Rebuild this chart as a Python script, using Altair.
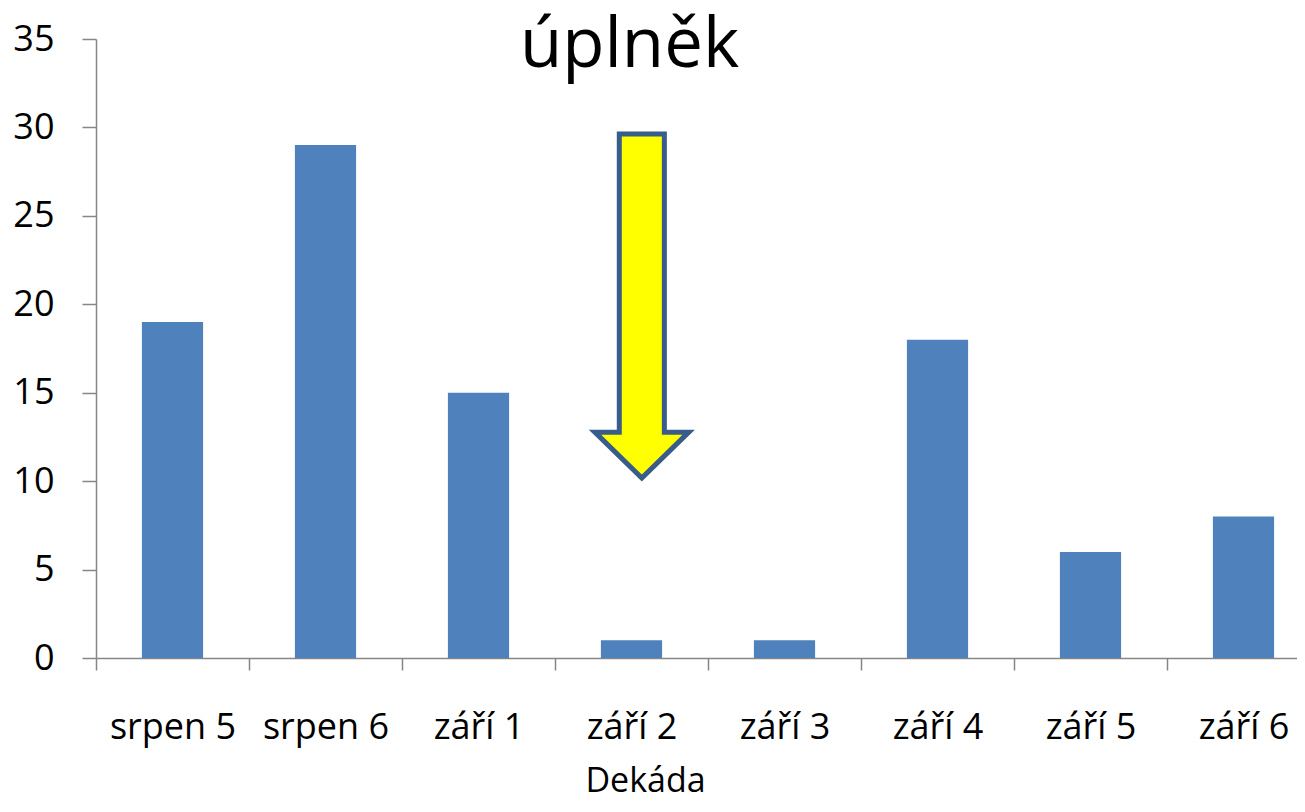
import altair as alt
import pandas as pd

# ---- data ----
categories = ["srpen 5", "srpen 6", "září 1", "září 2", "září 3", "září 4", "září 5", "září 6"]
counts = [19, 29, 15, 1, 1, 18, 6, 8]
y_ticks = [0, 5, 10, 15, 20, 25, 30, 35]
x_title = "Dekáda"

# annotation (full-moon marker above "září 2")
note_category = ["září 2"]
note_text = ["úplněk"]
note_text_value = [35]
arrow_category = ["září 2"]
arrow_center_value = [19.9]

FONT = "Open Sans"
AXIS_GREY = "#868686"
BAR_BLUE = "#4F81BD"

bars_df = pd.DataFrame({"Dekáda": categories, "count": counts})
title_df = pd.DataFrame({"Dekáda": note_category, "count": note_text_value, "label": note_text})
arrow_df = pd.DataFrame({"Dekáda": arrow_category, "count": arrow_center_value})

x_scale = alt.Scale(domain=categories, range=[0, 1224], paddingInner=0, paddingOuter=0)
y_scale = alt.Scale(domain=[0, 35], nice=False, zero=True)

x_enc = alt.X(
    "Dekáda:N",
    sort=categories,
    scale=x_scale,
    axis=alt.Axis(
        title=x_title,
        titleFont=FONT,
        titleFontSize=34,
        titleFontWeight="normal",
        titleColor="black",
        titleX=549,
        titleY=133,
        titleBaseline="alphabetic",
        titleAlign="center",
        labelAngle=0,
        labelFont=FONT,
        labelFontSize=36,
        labelColor="black",
        labelBaseline="alphabetic",
        labelPadding=68,
        labelOverlap=False,
        labelBound=False,
        tickSize=12,
        tickColor=AXIS_GREY,
        tickWidth=1.5,
        domainColor=AXIS_GREY,
        domainWidth=1.5,
        tickBand="extent",
        grid=False,
    ),
)

y_enc = alt.Y(
    "count:Q",
    scale=y_scale,
    axis=alt.Axis(
        title="",
        values=y_ticks,
        labelFont=FONT,
        labelFontSize=36,
        labelColor="black",
        labelPadding=28,
        tickSize=14,
        tickColor=AXIS_GREY,
        tickWidth=1.5,
        domainColor=AXIS_GREY,
        domainWidth=1.5,
        grid=False,
    ),
)

bars = alt.Chart(bars_df).mark_bar(
    color=BAR_BLUE, width=alt.RelativeBandSize(0.4)
).encode(x=x_enc, y=y_enc)

arrow_path = (
    "M -0.071 -1 L 0.191 -1 L 0.191 0.733 L 0.333 0.733 "
    "L 0.06 1 L -0.213 0.733 L -0.071 0.733 Z"
)
arrow = alt.Chart(arrow_df).mark_point(
    shape=arrow_path,
    size=118336,
    filled=True,
    fill="#FFFF00",
    stroke="#385D8A",
    strokeWidth=5,
    strokeJoin="miter",
    opacity=1,
    fillOpacity=1,
).encode(
    x=alt.X("Dekáda:N", sort=categories),
    y=alt.Y("count:Q"),
)

title = alt.Chart(title_df).mark_text(
    font=FONT,
    fontSize=69,
    color="black",
    align="center",
    baseline="alphabetic",
    dy=28,
    dx=-2,
).encode(
    x=alt.X("Dekáda:N", sort=categories),
    y=alt.Y("count:Q"),
    text="label:N",
)

chart = (
    alt.layer(bars, arrow, title)
    .properties(
        width=1201,
        height=619,
        autosize=alt.AutoSizeParams(type="none"),
        padding={"left": 88, "top": 31, "right": 0, "bottom": 146},
        background="white",
    )
    .configure_view(strokeWidth=0, stroke="transparent")
    .configure_axis(grid=False)
)

chart.save("out.html", embed_options={"renderer": "svg", "actions": False})
